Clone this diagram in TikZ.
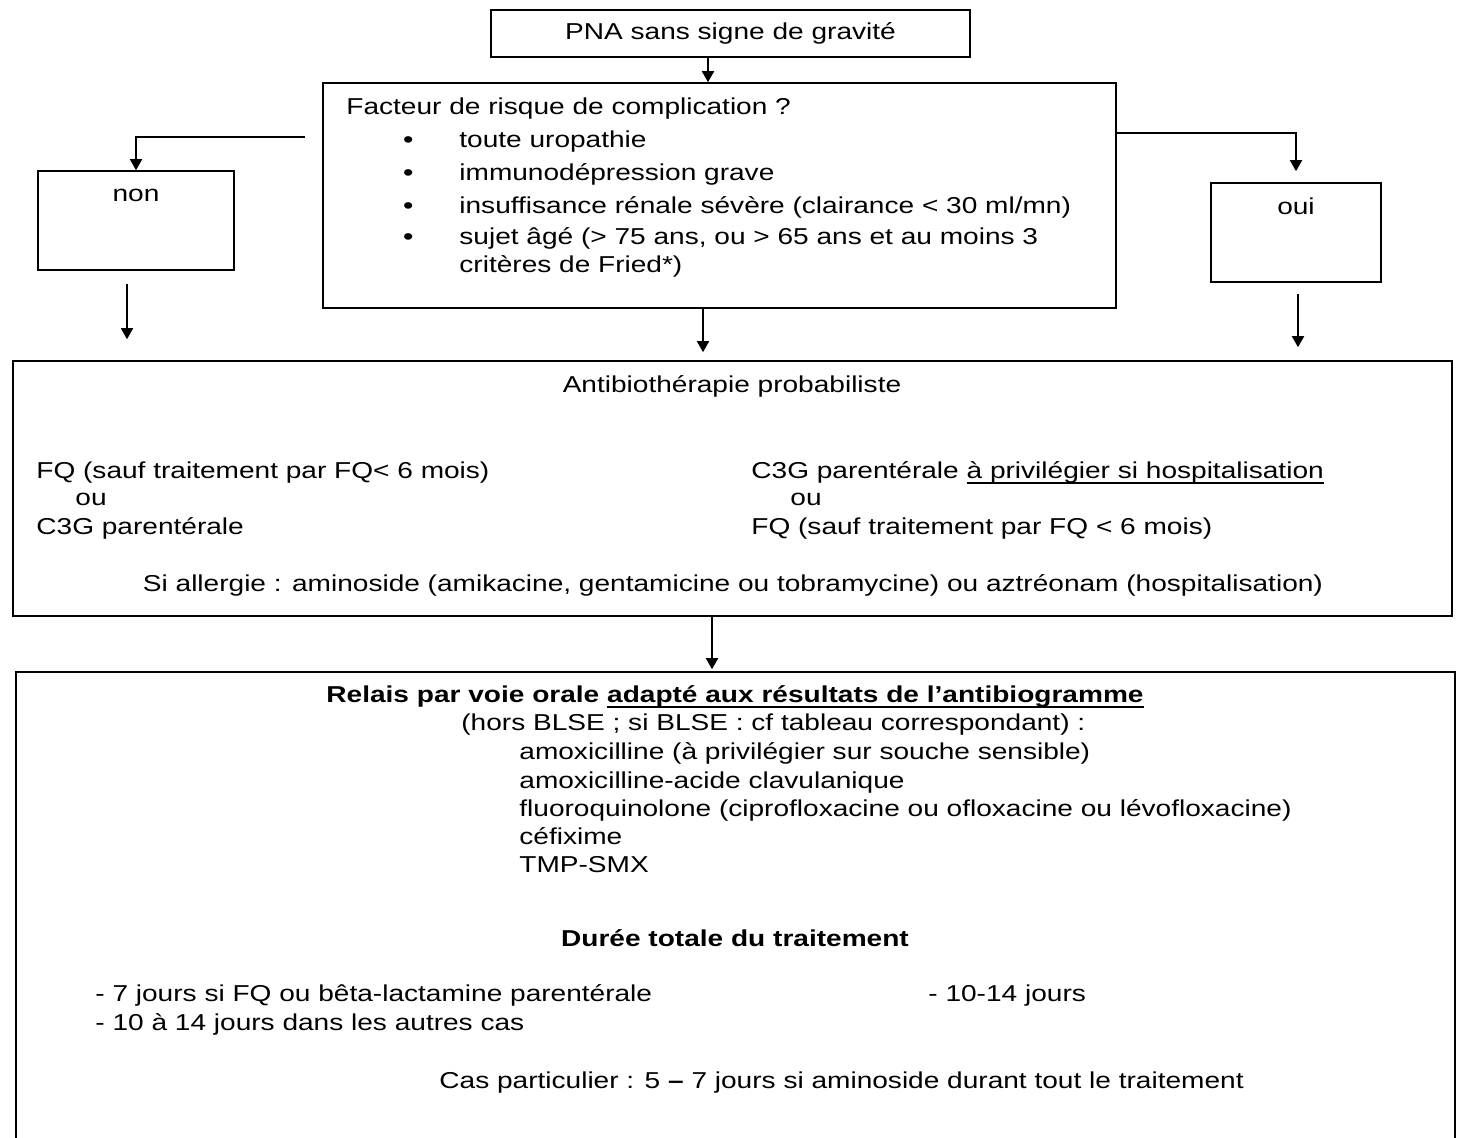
\documentclass[tikz,border=0pt]{standalone}
\usepackage{fontspec}
\setmainfont{Liberation Sans}[FakeStretch=1.22]
\usetikzlibrary{arrows.meta,positioning,calc}
\newcommand\souligne[1]{\setbox0\hbox{#1}\rlap{\rule[-2.6pt]{\wd0}{0.7pt}}\box0}

\tikzset{
  box/.style={draw,line width=0.8pt,rectangle,inner sep=0pt},
  txt/.style={anchor=west,inner sep=0pt,font=\fontsize{11.5}{13}\selectfont,text height=1.5ex,text depth=0.25ex},
  ctxt/.style={txt,anchor=center},
  arr/.style={-{Triangle[width=6pt,length=5.5pt]},line width=0.9pt},
}

\begin{document}
\begin{tikzpicture}[x=0.5pt,y=-0.5pt]
  \useasboundingbox (0,0) rectangle (1457,1138);
  % boxes
  \node[box,minimum width=239.5pt,minimum height=23.5pt,font=\fontsize{11.5}{13}\selectfont] (pna) at (730.5,33.5) {PNA sans signe de gravité};
  \node[box,minimum width=396.5pt,minimum height=112.5pt] (risk) at (719.5,195.5) {};
  \node[box,minimum width=98pt,minimum height=49.5pt] (non) at (136,220.5) {};
  \node[box,minimum width=85pt,minimum height=49.5pt] (oui) at (1296,232.5) {};
  \node[box,minimum width=719.5pt,minimum height=127.5pt] (proba) at (732.5,488.5) {};
  \node[box,minimum width=719.5pt,minimum height=244pt] (relais) at (735.5,916) {};

  % facteur de risque
  \node[txt] (riskT) at (346,108) {Facteur de risque de complication ?};
  \foreach \y/\t [count=\i] in {141/toute uropathie,174/immunodépression grave,
      207/{insuffisance rénale sévère (clairance < 30 ml/mn)},
      238/{sujet âgé (> 75 ans, ou > 65 ans et au moins 3}} {
    \node[txt] (bul\i) at (403,\y) {\textbf{\textbullet}};
    \node[txt] (crit\i) at (459,\y) {\t};
  }
  \node[txt] (crit5) at (459,266) {critères de Fried*)};
  \node[ctxt] (nonT) at (136,195) {non};
  \node[ctxt] (ouiT) at (1296,208) {oui};

  % antibiotherapie probabiliste
  \node[ctxt] (probaT) at (732,386) {Antibiothérapie probabiliste};
  \node[txt] (fqL) at (36,472) {FQ (sauf traitement par FQ< 6 mois)};
  \node[txt] (ouL) at (75,499) {ou};
  \node[txt] (c3gL) at (36,528) {C3G parentérale};
  \node[txt] (c3gR) at (751,472) {C3G parentérale \souligne{à privilégier si hospitalisation}};
  \node[txt] (ouR) at (790,499) {ou};
  \node[txt] (fqR) at (751,528) {FQ (sauf traitement par FQ < 6 mois)};
  \node[ctxt] (allerg) at (733,585) {Si allergie : aminoside (amikacine, gentamicine ou tobramycine) ou aztréonam (hospitalisation)};

  % relais
  \node[ctxt,font=\fontsize{11.5}{13}\selectfont\bfseries] (relaisT) at (735,696) {Relais par voie orale \souligne{adapté aux résultats de l’antibiogramme}};
  \node[txt] (blse) at (461,724) {(hors BLSE ; si BLSE : cf tableau correspondant) :};
  \foreach \y/\t [count=\i] in {753/amoxicilline (à privilégier sur souche sensible),
      782/amoxicilline-acide clavulanique,
      810/fluoroquinolone (ciprofloxacine ou ofloxacine ou lévofloxacine),
      838/céfixime,866/TMP-SMX} {
    \node[txt] (atb\i) at (519,\y) {\t};
  }
  \node[ctxt,font=\fontsize{11.5}{13}\selectfont\bfseries] (dureeT) at (735,940) {Durée totale du traitement};
  \node[txt] (dur1) at (95,995) {- 7 jours si FQ ou bêta-lactamine parentérale};
  \node[txt] (dur2) at (95,1024) {- 10 à 14 jours dans les autres cas};
  \node[txt] (dur3) at (928,995) {- 10-14 jours};
  \node[txt] (cas) at (439,1082) {Cas particulier : 5 \textbf{--} 7 jours si aminoside durant tout le traitement};

  % connecteurs
  \coordinate (nonL) at (305,137);
  \coordinate (ouiL) at (1116,133);
  \draw[arr] ([xshift=-11.25pt]pna.south) -- ([xshift=-11.25pt]pna.south |- risk.north);
  \draw[arr] (nonL) -| (non.north);
  \draw[arr,shorten >=5.5pt] (ouiL) -| (oui.north);
  \draw[arr,shorten <=6.5pt,shorten >=10.5pt] ([xshift=-4.5pt]non.south) -- ([xshift=-4.5pt]non.south |- proba.north);
  \draw[arr,shorten <=5.5pt,shorten >=6.5pt] ([xshift=1pt]oui.south) -- ([xshift=1pt]oui.south |- proba.north);
  \draw[arr,shorten >=4pt] ([xshift=-8.25pt]risk.south) -- ([xshift=-8.25pt]risk.south |- proba.north);
  \draw[arr,shorten >=1pt] ([xshift=-10.25pt]proba.south) -- ([xshift=-10.25pt]proba.south |- relais.north);
\end{tikzpicture}
\end{document}
